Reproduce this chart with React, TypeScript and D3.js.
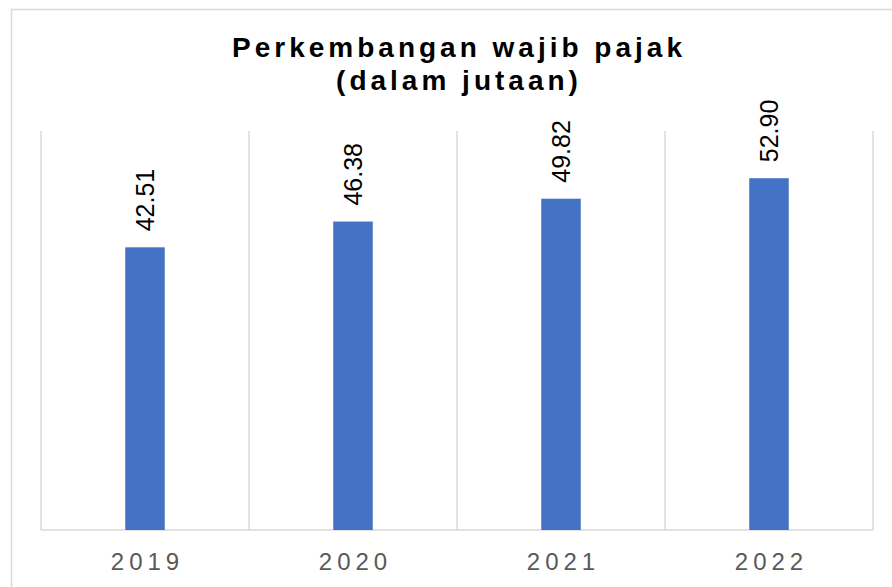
import React from "react";
import * as d3 from "d3";

const years: string[] = ["2019", "2020", "2021", "2022"];
const values: number[] = [42.51, 46.38, 49.82, 52.9];
const titleLines: string[] = ["Perkembangan wajib pajak", "(dalam jutaan)"];
const yDomain: [number, number] = [0, 60];

const W = 892;
const H = 587;
const FONT = "'Liberation Sans', Arial, Helvetica, sans-serif";

export default function App() {
  const left = 41;
  const right = 873;
  const top = 131;
  const bottom = 530;

  const x = d3
    .scaleBand<string>()
    .domain(years)
    .range([left, right])
    .paddingInner(0.81)
    .paddingOuter(0.405);
  const y = d3.scaleLinear().domain(yDomain).range([bottom, top]);
  const step = x.step();
  const bounds = years.map((_, i) => left + i * step).concat([right]);

  return (
    <svg
      width={W}
      height={H}
      style={{ position: "absolute", left: 0, top: 0, background: "#fff" }}
    >
      <rect x={0} y={0} width={W} height={H} fill="#fff" />
      <rect
        x={11.5}
        y={9.5}
        width={W + 20}
        height={H + 20}
        fill="none"
        stroke="#d9d9d9"
        strokeWidth={1.5}
      />
      {titleLines.map((t, i) => (
        <text
          key={t}
          x={457 + 2}
          y={57 + i * 33}
          textAnchor="middle"
          fontFamily={FONT}
          fontWeight="bold"
          fontSize={28}
          letterSpacing={4}
          fill="#000"
        >
          {t}
        </text>
      ))}
      {bounds.map((bx, i) => (
        <line
          key={i}
          x1={bx}
          x2={bx}
          y1={top}
          y2={bottom}
          stroke="#d9d9d9"
          strokeWidth={1.5}
        />
      ))}
      <line
        x1={left}
        x2={right}
        y1={bottom}
        y2={bottom}
        stroke="#d9d9d9"
        strokeWidth={1.5}
      />
      {years.map((yr, i) => {
        const bx = x(yr) as number;
        const cx = bx + x.bandwidth() / 2;
        const ty = y(values[i]);
        return (
          <g key={yr}>
            <rect
              x={bx}
              y={ty}
              width={x.bandwidth()}
              height={bottom - ty}
              fill="#4472C4"
            />
            <text
              transform={`translate(${cx + 9},${ty - 16}) rotate(-90)`}
              textAnchor="start"
              fontFamily={FONT}
              fontSize={25}
              fill="#000"
            >
              {values[i].toFixed(2)}
            </text>
            <text
              x={cx + 2.5}
              y={570}
              textAnchor="middle"
              fontFamily={FONT}
              fontSize={24}
              letterSpacing={5}
              fill="#595959"
            >
              {yr}
            </text>
          </g>
        );
      })}
    </svg>
  );
}
